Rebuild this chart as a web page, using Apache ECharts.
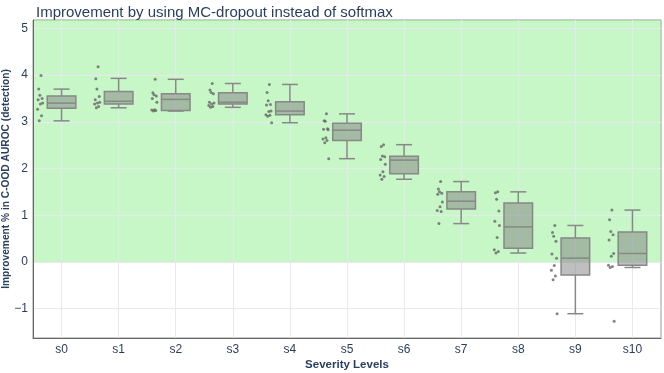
<!DOCTYPE html>
<html>
<head>
<meta charset="utf-8">
<script src="https://cdn.jsdelivr.net/npm/echarts@6/dist/echarts.min.js"></script>
<style>
  html, body { margin: 0; padding: 0; background: #fff; }
  #chart { width: 664px; height: 373px; }
</style>
</head>
<body>
<div id="chart"></div>
<script>
const categories = ['s0', 's1', 's2', 's3', 's4', 's5', 's6', 's7', 's8', 's9', 's10'];

// box stats per severity level
const boxLow    = [3.02, 3.30, 3.23, 3.31, 2.98, 2.21, 1.77, 0.82, 0.19, -1.11, -0.12];
const boxQ1     = [3.29, 3.38, 3.24, 3.38, 3.15, 2.60, 1.89, 1.13, 0.29, -0.28, -0.07];
const boxMedian = [3.40, 3.44, 3.48, 3.42, 3.23, 2.82, 2.18, 1.30, 0.75, 0.08, 0.18];
const boxQ3     = [3.55, 3.65, 3.60, 3.62, 3.43, 2.97, 2.26, 1.50, 1.26, 0.51, 0.64];
const boxHigh   = [3.70, 3.93, 3.91, 3.82, 3.80, 3.17, 2.51, 1.72, 1.50, 0.78, 1.11];

// individual runs shown next to each box
const pointValues = [
  [3.99, 3.70, 3.57, 3.50, 3.47, 3.40, 3.38, 3.27, 3.13, 3.02],
  [4.18, 3.92, 3.70, 3.54, 3.47, 3.42, 3.40, 3.38, 3.33, 3.30],
  [3.91, 3.62, 3.58, 3.55, 3.50, 3.42, 3.26, 3.25, 3.24, 3.23],
  [3.82, 3.68, 3.63, 3.60, 3.42, 3.40, 3.38, 3.35, 3.33, 3.31],
  [3.80, 3.63, 3.45, 3.37, 3.36, 3.23, 3.22, 3.15, 3.14, 3.12, 2.98],
  [3.17, 3.02, 3.01, 2.85, 2.84, 2.83, 2.66, 2.63, 2.60, 2.55, 2.21],
  [2.51, 2.47, 2.27, 2.25, 2.19, 2.09, 1.93, 1.86, 1.83, 1.77],
  [1.72, 1.56, 1.50, 1.47, 1.45, 1.28, 1.18, 1.10, 1.08, 0.82],
  [1.50, 1.48, 1.34, 1.09, 0.87, 0.78, 0.52, 0.26, 0.22, 0.19],
  [0.78, 0.63, 0.55, 0.44, 0.17, 0.08, -0.08, -0.18, -0.30, -0.38, -1.11],
  [1.11, 0.90, 0.65, 0.58, 0.47, 0.18, 0.12, -0.07, -0.10, -0.12, -1.27]
];

const yTicks = [-1, 0, 1, 2, 3, 4, 5];
const yMin = -1.63;
const yMax = 5.18;

// fixed horizontal spread of the points (in category widths, left of the box)
const jitter = [-0.36, -0.40, -0.38, -0.34, -0.41, -0.33, -0.37, -0.42, -0.35, -0.39, -0.32];

const boxData = categories.map((c, i) => [i, boxLow[i], boxQ1[i], boxMedian[i], boxQ3[i], boxHigh[i]]);
const pointData = [];
pointValues.forEach((vals, i) => {
  vals.forEach((v, k) => pointData.push([i + jitter[k % jitter.length], v]));
});

const textColor = '#2a3f5f';
const font = 'Liberation Sans, Arial, sans-serif';

function renderBox(params, api) {
  const x = api.value(0);
  const w = api.size([1, 0])[0];
  const half = w * 0.25;
  const cap = w * 0.14;
  const low = api.coord([x, api.value(1)]);
  const q1 = api.coord([x, api.value(2)]);
  const med = api.coord([x, api.value(3)]);
  const q3 = api.coord([x, api.value(4)]);
  const high = api.coord([x, api.value(5)]);
  const cx = med[0];
  const line = { stroke: '#888', lineWidth: 1.5 };
  return {
    type: 'group',
    children: [
      { type: 'line', shape: { x1: cx, y1: high[1], x2: cx, y2: q3[1] }, style: line },
      { type: 'line', shape: { x1: cx, y1: q1[1], x2: cx, y2: low[1] }, style: line },
      { type: 'line', shape: { x1: cx - cap, y1: high[1], x2: cx + cap, y2: high[1] }, style: line },
      { type: 'line', shape: { x1: cx - cap, y1: low[1], x2: cx + cap, y2: low[1] }, style: line },
      { type: 'rect', shape: { x: cx - half, y: q3[1], width: half * 2, height: q1[1] - q3[1] },
        style: { fill: 'rgba(128,128,128,0.5)', stroke: '#888', lineWidth: 1.5 } },
      { type: 'line', shape: { x1: cx - half, y1: med[1], x2: cx + half, y2: med[1] }, style: line }
    ]
  };
}

const chart = echarts.init(document.getElementById('chart'));
chart.setOption({
  animation: false,
  title: {
    text: 'Improvement by using MC-dropout instead of softmax',
    left: 31, top: 0,
    textStyle: { fontFamily: font, fontSize: 15, fontWeight: 'normal', color: textColor }
  },
  grid: {
    left: 33, right: 3, top: 20, bottom: 35, outerBoundsMode: 'none',
    show: true, borderColor: '#999', borderWidth: 1, backgroundColor: 'transparent'
  },
  xAxis: {
    type: 'value', min: -0.5, max: 10.5, z: 2,
    name: 'Severity Levels', nameLocation: 'middle', nameGap: 21, nameMoveOverlap: false,
    nameTextStyle: { fontFamily: font, fontSize: 11.5, fontWeight: 'bold', color: textColor },
    axisLine: { show: true, onZero: false, lineStyle: { color: '#666', width: 1 } },
    axisTick: { show: false, customValues: categories.map((c, i) => i) },
    axisLabel: {
      customValues: categories.map((c, i) => i),
      formatter: v => categories[Math.round(v)],
      fontFamily: font, fontSize: 12, color: textColor, margin: 6
    },
    splitLine: { show: true, lineStyle: { color: '#e6e9ef', width: 1 } }
  },
  yAxis: {
    type: 'value', min: yMin, max: yMax, z: 2,
    name: 'Improvement % in C-OOD AUROC (detection)', nameLocation: 'middle', nameGap: 22, nameMoveOverlap: false,
    nameTextStyle: { fontFamily: font, fontSize: 10.2, fontWeight: 'bold', color: textColor },
    axisLine: { show: true, onZero: false, lineStyle: { color: '#666', width: 1 } },
    axisTick: { show: false, customValues: yTicks },
    axisLabel: {
      customValues: yTicks,
      formatter: v => (v < 0 ? '\u2212' + Math.abs(v) : String(v)),
      fontFamily: font, fontSize: 12, color: textColor, margin: 5
    },
    splitLine: { show: true, lineStyle: { color: '#e6e9ef', width: 1 } }
  },
  series: [
    {
      type: 'scatter', data: [], z: 1, silent: true,
      markArea: {
        silent: true,
        itemStyle: { color: 'rgba(144,238,144,0.5)' },
        data: [[{ xAxis: -0.5, yAxis: 0 }, { xAxis: 10.5, yAxis: yMax }]]
      }
    },
    {
      type: 'custom', z: 3, data: boxData, renderItem: renderBox,
      encode: { x: 0, y: [1, 2, 3, 4, 5] }
    },
    {
      type: 'scatter', z: 4, data: pointData, symbolSize: 3,
      itemStyle: { color: '#666' }
    }
  ]
});
</script>
</body>
</html>
